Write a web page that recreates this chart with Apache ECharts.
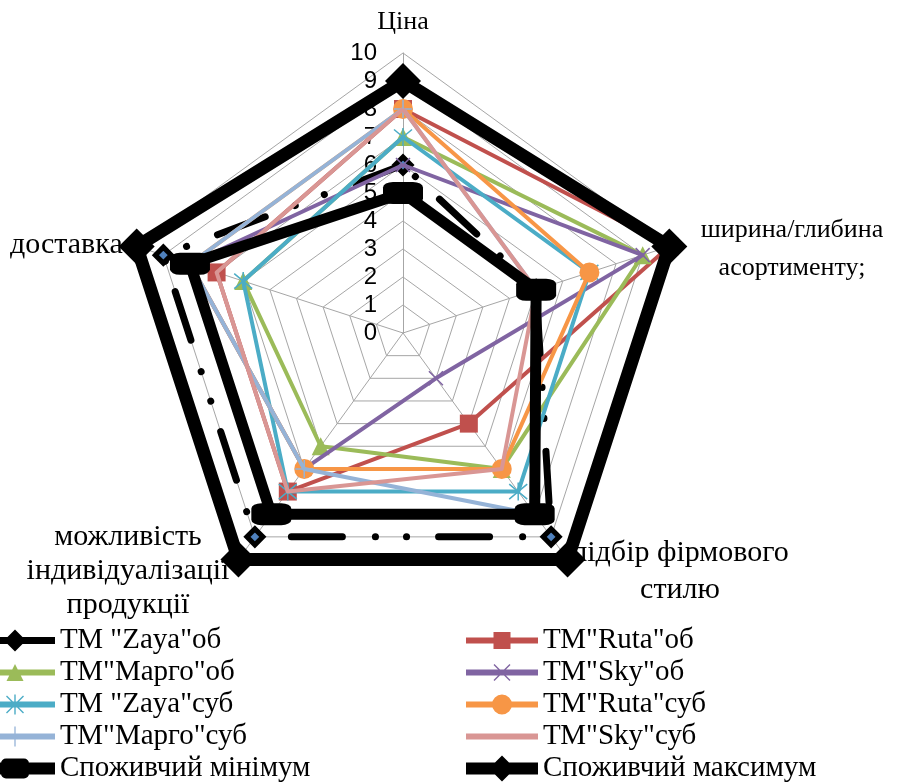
<!DOCTYPE html>
<html>
<head>
<meta charset="utf-8">
<script src="https://cdn.jsdelivr.net/npm/echarts@6/dist/echarts.min.js"></script>
<style>
  html, body { margin: 0; padding: 0; background: #fff; }
  #chart { width: 910px; height: 783px; }
</style>
</head>
<body>
<div id="chart"></div>
<script>
// Criteria (axes of the radar), in clockwise order starting from the top
const criteria = ['Ціна', 'ширина/глибина асортименту;', 'підбір фірмового стилю', 'можливість індивідуалізації продукції', 'доставка'];
const criteriaLines = [['Ціна'], ['ширина/глибина', 'асортименту;'], ['підбір фірмового', 'стилю'], ['можливість', 'індивідуалізації', 'продукції'], ['доставка']];
const scaleTicks = ['0', '1', '2', '3', '4', '5', '6', '7', '8', '9', '10'];

// Scores per brand: objective (об) and subjective (суб) estimates
const zayaOb   = [6, 5, 9, 9, 9];
const rutaOb   = [8, 10, 4, 7, 7];
const margoOb  = [7, 9, 6, 5, 6];
const skyOb    = [6, 9, 2, 6, 8];
const zayaSub  = [7, 7, 7, 7, 6];
const rutaSub  = [8, 7, 6, 6, 8];
const margoSub = [8, 5, 8, 6, 8];
const skySub   = [8, 5, 6, 7, 7];
const consumerMin = [5, 5, 8, 8, 8];
const consumerMax = [9, 10, 10, 10, 10];

const seriesNames = ['ТМ "Zaya"об', 'ТМ"Ruta"об', 'ТМ"Марго"об', 'ТМ"Sky"об', 'ТМ "Zaya"суб', 'ТМ"Ruta"суб', 'ТМ"Марго"суб', 'ТМ"Sky"суб', 'Споживчий мінімум', 'Споживчий максимум'];
const seriesValues = [zayaOb, rutaOb, margoOb, skyOb, zayaSub, rutaSub, margoSub, skySub, consumerMin, consumerMax];

// ECharts lays radar axes out counter-clockwise, so reorder to keep the clockwise layout
const order = [0, 4, 3, 2, 1];
const reorder = arr => order.map(i => arr[i]);

const serif = '"Liberation Serif", "Times New Roman", serif';
const CX = 403, CY = 333, R = 280;

const styles = [
  { line: { color: '#000', width: 7, type: [51, 33, 0.1, 31, 0.1, 32], cap: 'round' }, symbol: 'diamond', size: 16, item: { color: '#4F81BD', borderColor: '#000', borderWidth: 5 } },
  { line: { color: '#C0504D', width: 4 }, symbol: 'rect', size: 18, item: { color: '#C0504D' } },
  { line: { color: '#9BBB59', width: 4 }, symbol: 'triangle', size: 18, item: { color: '#9BBB59' } },
  { line: { color: '#8064A2', width: 4 }, symbol: 'path://M0,0L10,10M10,0L0,10', size: 14, item: { color: '#8064A2', borderColor: '#8064A2', borderWidth: 1.5 } },
  { line: { color: '#4BACC6', width: 4 }, symbol: 'path://M0,0L10,10M10,0L0,10M5,-1L5,11', size: 18, item: { color: '#4BACC6', borderColor: '#4BACC6', borderWidth: 1.5 } },
  { line: { color: '#F79646', width: 4 }, symbol: 'circle', size: 20, item: { color: '#F79646' } },
  { line: { color: '#95B3D7', width: 4 }, symbol: 'path://M5,0L5,10M0,5L10,5', size: 18, item: { color: '#95B3D7', borderColor: '#95B3D7', borderWidth: 1.5 } },
  { line: { color: '#D99694', width: 4 }, symbol: 'none', size: 0, item: { color: '#D99694' } },
  { line: { color: '#000', width: 11 }, symbol: 'roundRect', size: [40, 22], item: { color: '#000' } },
  { line: { color: '#000', width: 13 }, symbol: 'diamond', size: 36, item: { color: '#000' } }
];

const series = seriesNames.map((name, i) => ({
  type: 'radar',
  name: name,
  z: 2 + i,
  symbol: styles[i].symbol,
  symbolSize: styles[i].size,
  lineStyle: Object.assign({ opacity: 1 }, styles[i].line),
  itemStyle: styles[i].item,
  data: [{ name: name, value: reorder(seriesValues[i]) }]
}));

// Empty polar series so the scale labels along the upper axis are laid out
series.push({ type: 'bar', coordinateSystem: 'polar', data: [], silent: true });

// ---- legend icons: a line segment with the series marker, as filled paths ----
const LH = 26, CYI = 13;
const f = v => Math.round(v * 100) / 100;
const poly = pts => 'M' + pts.map(p => f(p[0]) + ',' + f(p[1])).join('L') + 'Z';
const bar = (x0, x1, h) => poly([[x0, CYI - h / 2], [x1, CYI - h / 2], [x1, CYI + h / 2], [x0, CYI + h / 2]]);
const seg = (x0, y0, x1, y1, w) => {
  const dx = x1 - x0, dy = y1 - y0, len = Math.hypot(dx, dy);
  const nx = dy / len * w / 2, ny = -dx / len * w / 2;
  return poly([[x0 + nx, y0 + ny], [x1 + nx, y1 + ny], [x1 - nx, y1 - ny], [x0 - nx, y0 - ny]]);
};
const diamond = (cx, r) => poly([[cx, CYI - r], [cx + r, CYI], [cx, CYI + r], [cx - r, CYI]]);
const square = (cx, a) => poly([[cx - a / 2, CYI - a / 2], [cx + a / 2, CYI - a / 2], [cx + a / 2, CYI + a / 2], [cx - a / 2, CYI + a / 2]]);
const triangle = (cx, a) => poly([[cx, CYI - a / 2], [cx + a / 2, CYI + a / 2], [cx - a / 2, CYI + a / 2]]);
const circle = (cx, r) => `M${cx + r},${CYI}A${r},${r},0,1,1,${cx - r},${CYI}A${r},${r},0,1,1,${cx + r},${CYI}Z`;
const cross = (cx, a, w) => seg(cx - a / 2, CYI - a / 2, cx + a / 2, CYI + a / 2, w) + seg(cx + a / 2, CYI - a / 2, cx - a / 2, CYI + a / 2, w);
const plus = (cx, a, w) => seg(cx, CYI - a / 2, cx, CYI + a / 2, w) + seg(cx - a / 2, CYI, cx + a / 2, CYI, w);
const corners = W => poly([[0, 0], [0.01, 0], [0, 0.01]]) + poly([[W, LH], [W - 0.01, LH], [W, LH - 0.01]]);
const roundBlock = (cx, w, h) => {
  const r = 5, x0 = cx - w / 2, x1 = cx + w / 2, y0 = CYI - h / 2, y1 = CYI + h / 2;
  return `M${x0 + r},${y0}L${x1 - r},${y0}A${r},${r},0,0,1,${x1},${y0 + r}L${x1},${y1 - r}A${r},${r},0,0,1,${x1 - r},${y1}L${x0 + r},${y1}A${r},${r},0,0,1,${x0},${y1 - r}L${x0},${y0 + r}A${r},${r},0,0,1,${x0 + r},${y0}Z`;
};

const WL = 55, WR = 72, ML = 15, MR = 36;
const icons = [
  corners(WL) + bar(0, WL, 7) + diamond(ML, 11),
  corners(WR) + bar(0, WR, 6) + square(MR, 17),
  corners(WL) + bar(0, WL, 6) + triangle(ML, 17),
  corners(WR) + bar(0, WR, 6) + cross(MR, 16, 1.4),
  corners(WL) + bar(0, WL, 6) + cross(ML, 17, 1.4) + seg(ML, CYI - 10, ML, CYI + 10, 1.4),
  corners(WR) + bar(0, WR, 6) + circle(MR, 10),
  corners(WL) + bar(0, WL, 6) + plus(ML, 20, 1.3),
  corners(WR) + bar(0, WR, 6),
  corners(WL) + bar(0, WL, 12) + roundBlock(ML, 28, 20),
  corners(WR) + bar(0, WR, 12) + diamond(MR, 13)
];
const iconColor = ['#000', '#C0504D', '#9BBB59', '#8064A2', '#4BACC6', '#F79646', '#95B3D7', '#D99694', '#000', '#000'];
const legendItem = i => ({
  name: seriesNames[i],
  icon: 'path://' + icons[i],
  itemStyle: { color: iconColor[i], borderWidth: 0 }
});

// Axis titles placed around the pentagon
const namePos = [
  { x: 403, y: 22, size: 26, lh: 30 },
  { x: 792, y: 249, size: 26, lh: 38 },
  { x: 680, y: 572, size: 30, lh: 37 },
  { x: 128, y: 571, size: 30, lh: 34 },
  { x: 10, y: 245, size: 30, lh: 30, align: 'left' }
];
const graphic = criteriaLines.map((lines, i) => ({
  type: 'text',
  z: 0,
  x: namePos[i].x,
  y: namePos[i].y,
  style: {
    text: lines.join('\n'),
    font: namePos[i].size + 'px ' + serif,
    fill: '#000',
    align: namePos[i].align || 'center',
    verticalAlign: 'middle',
    lineHeight: namePos[i].lh
  }
}));

const legendText = { color: '#000', fontFamily: serif, fontSize: 29, lineHeight: 29 };
const legendBase = {
  orient: 'vertical', top: 626, itemGap: 3, itemHeight: LH, padding: 0, height: 170,
  symbolKeepAspect: true, textStyle: legendText, itemStyle: { borderWidth: 0 }
};

const option = {
  backgroundColor: '#fff',
  animation: false,
  graphic: graphic,
  legend: [
    Object.assign({}, legendBase, { left: 0, itemWidth: WL, data: [0, 2, 4, 6, 8].map(legendItem) }),
    Object.assign({}, legendBase, { left: 466, itemWidth: WR, data: [1, 3, 5, 7, 9].map(legendItem) })
  ],
  radar: {
    center: [CX, CY],
    radius: R,
    startAngle: 90,
    splitNumber: 10,
    shape: 'polygon',
    indicator: reorder(criteria).map(n => ({ name: n, max: 10, min: 0 })),
    axisName: { show: false },
    axisLine: { lineStyle: { color: '#A6A6A6', width: 1 } },
    splitLine: { lineStyle: { color: '#A6A6A6', width: 1 } },
    splitArea: { show: false },
    axisTick: { show: false },
    axisLabel: { show: false }
  },
  polar: { center: [CX, CY], radius: R },
  angleAxis: { show: false, startAngle: 90, min: 0, max: 360 },
  radiusAxis: {
    type: 'category',
    data: scaleTicks,
    boundaryGap: false,
    axisLine: { show: false },
    axisTick: { show: false },
    splitLine: { show: false },
    axisLabel: { show: true, interval: 0, color: '#000', fontFamily: '"Liberation Sans", Arial, sans-serif', fontSize: 24, margin: 26 }
  },
  series: series
};

const chart = echarts.init(document.getElementById('chart'), null, { renderer: 'canvas' });
chart.setOption(option);
</script>
</body>
</html>
